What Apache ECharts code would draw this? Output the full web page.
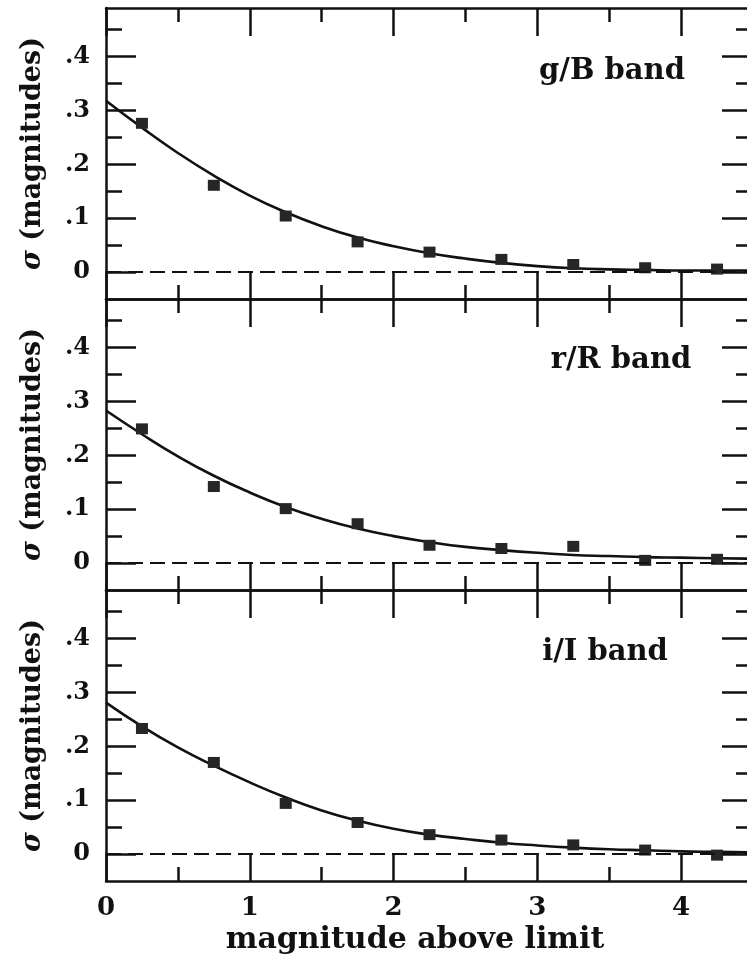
<!DOCTYPE html>
<html><head><meta charset="utf-8">
<script src="https://cdn.jsdelivr.net/npm/echarts@6/dist/echarts.min.js"></script>
<style>html,body{margin:0;padding:0;background:#fff}#c{width:747px;height:959px}</style>
</head><body><div id="c"></div>
<script>
// ---- data ----
const bandNames = ['g/B band', 'r/R band', 'i/I band'];
const pointX = [0.25, 0.75, 1.25, 1.75, 2.25, 2.75, 3.25, 3.75, 4.25];
const gBpoints = [0.276, 0.161, 0.104, 0.056, 0.037, 0.0235, 0.014, 0.008, 0.0055];
const rRpoints = [0.249, 0.142, 0.101, 0.073, 0.033, 0.027, 0.031, 0.005, 0.007];
const iIpoints = [0.233, 0.170, 0.094, 0.0585, 0.036, 0.026, 0.017, 0.0074, -0.002];
const fitX = [0, 0.25, 0.5, 0.75, 1.0, 1.25, 1.5, 1.75, 2.0, 2.25, 2.5, 2.75, 3.0, 3.25, 3.5, 3.75, 4.0, 4.25, 4.5];
const gBfit = [0.318, 0.268, 0.221, 0.179, 0.142, 0.111, 0.085, 0.064, 0.048, 0.035, 0.025, 0.017, 0.011, 0.007, 0.005, 0.004, 0.003, 0.003, 0.003];
const rRfit = [0.283, 0.239, 0.198, 0.162, 0.131, 0.104, 0.082, 0.064, 0.050, 0.039, 0.030, 0.024, 0.019, 0.015, 0.013, 0.011, 0.010, 0.009, 0.008];
const iIfit = [0.281, 0.237, 0.198, 0.164, 0.133, 0.105, 0.081, 0.062, 0.047, 0.036, 0.028, 0.021, 0.016, 0.012, 0.009, 0.007, 0.005, 0.004, 0.003];
const xMajorTicks = [0, 1, 2, 3, 4];
const xMinorTicks = [0.5, 1.5, 2.5, 3.5, 4.5];
const xTickLabels = ['0', '1', '2', '3', '4'];
const yMajorTicks = [0, 0.1, 0.2, 0.3, 0.4];
const yMinorTicks = [0.05, 0.15, 0.25, 0.35, 0.45];
const yTickLabels = ['0', '.1', '.2', '.3', '.4'];
const xTitle = 'magnitude above limit';
const yTitleSym = 'σ';
const yTitleText = ' (magnitudes)';

const pointSets = [gBpoints, rRpoints, iIpoints];
const fitSets = [gBfit, rRfit, iIfit];

// ---- layout/styles ----
const FONT = 'DejaVu Serif';
const INK = '#111';
const gridTops = [8, 299, 590];
const gridH = 291, gridL = 106, gridW = 647;
const XMIN = 0, XMAX = 4.5, YMIN = -0.05, YMAX = 0.49;

const grids = [], xAxes = [], yAxes = [], series = [], graphics = [];
const lineW = 2.5;

function xAx(g, pos, ticks, len, showLine, labels) {
  return {
    gridIndex: g, type: 'value', position: pos, min: XMIN, max: XMAX,
    axisLine: {show: showLine, onZero: false, lineStyle: {color: INK, width: lineW}},
    axisTick: {show: true, inside: true, length: len, customValues: ticks, lineStyle: {color: INK, width: lineW}},
    axisLabel: labels ? {show: true, customValues: xMajorTicks, margin: 14,
      formatter: v => xTickLabels[xMajorTicks.indexOf(v)],
      fontFamily: FONT, fontWeight: 'bold', fontSize: 26, color: INK} : {show: false},
    splitLine: {show: false}
  };
}
function yAx(g, pos, ticks, len, showLine, labels) {
  const o = {
    gridIndex: g, type: 'value', position: pos, min: YMIN, max: YMAX,
    axisLine: {show: showLine, onZero: false, lineStyle: {color: INK, width: lineW}},
    axisTick: {show: true, inside: true, length: len, customValues: ticks, lineStyle: {color: INK, width: lineW}},
    axisLabel: labels ? {show: true, customValues: yMajorTicks, margin: 16,
      formatter: v => yTickLabels[yMajorTicks.findIndex(t => Math.abs(t - v) < 1e-9)],
      fontFamily: FONT, fontWeight: 'bold', fontSize: 24, color: INK} : {show: false},
    splitLine: {show: false}
  };
  if (labels) {
    o.name = '{s|' + yTitleSym + '}' + yTitleText;
    o.nameLocation = 'middle';
    o.nameRotate = 90;
    o.nameGap = 60;
    o.nameTextStyle = {fontFamily: FONT, fontWeight: 'bold', fontSize: 27, color: INK,
      rich: {s: {fontFamily: FONT, fontWeight: 'bold', fontStyle: 'italic', fontSize: 27, color: INK}}};
  }
  return o;
}

for (let g = 0; g < 3; g++) {
  grids.push({left: gridL, top: gridTops[g], width: gridW, height: gridH,
    containLabel: false, outerBoundsMode: 'none'});
  const xi = xAxes.length, yi = yAxes.length;
  xAxes.push(xAx(g, 'bottom', xMajorTicks, 28, true, g === 2));
  xAxes.push(xAx(g, 'bottom', xMinorTicks, 14, false, false));
  xAxes.push(xAx(g, 'top', xMajorTicks, 28, true, false));
  xAxes.push(xAx(g, 'top', xMinorTicks, 14, false, false));
  yAxes.push(yAx(g, 'left', yMajorTicks, 30, true, true));
  yAxes.push(yAx(g, 'left', yMinorTicks, 16, false, false));
  yAxes.push(yAx(g, 'right', yMajorTicks, 31, true, false));
  yAxes.push(yAx(g, 'right', yMinorTicks, 17, false, false));

  series.push({
    type: 'line', xAxisIndex: xi, yAxisIndex: yi, smooth: 0.5, showSymbol: false,
    data: fitX.map((x, k) => [x, fitSets[g][k]]),
    lineStyle: {color: INK, width: 2.6}, z: 3,
    markLine: {silent: true, symbol: 'none', label: {show: false},
      lineStyle: {color: INK, width: 2.2, type: [15, 7]}, data: [{yAxis: 0}]}
  });
  series.push({
    type: 'scatter', xAxisIndex: xi, yAxisIndex: yi, symbol: 'rect', symbolSize: [12, 11],
    data: pointX.map((x, k) => [x, pointSets[g][k]]),
    itemStyle: {color: '#262626', opacity: 1}, z: 4
  });
}

const bandPos = [[612, 71], [621, 360], [605, 652]];
for (let g = 0; g < 3; g++) {
  graphics.push({type: 'text', x: bandPos[g][0], y: bandPos[g][1],
    style: {text: bandNames[g], fontFamily: FONT, fontWeight: 'bold', fontSize: 29, fill: INK,
      align: 'center', verticalAlign: 'middle'}});
}
graphics.push({type: 'text', x: 415, y: 940,
  style: {text: xTitle, fontFamily: FONT, fontWeight: 'bold', fontSize: 30, fill: INK,
    align: 'center', verticalAlign: 'middle'}});

const chart = echarts.init(document.getElementById('c'), null, {renderer: 'canvas'});
chart.setOption({
  animation: false,
  backgroundColor: '#fff',
  grid: grids, xAxis: xAxes, yAxis: yAxes, series: series, graphic: graphics
});
</script></body></html>
